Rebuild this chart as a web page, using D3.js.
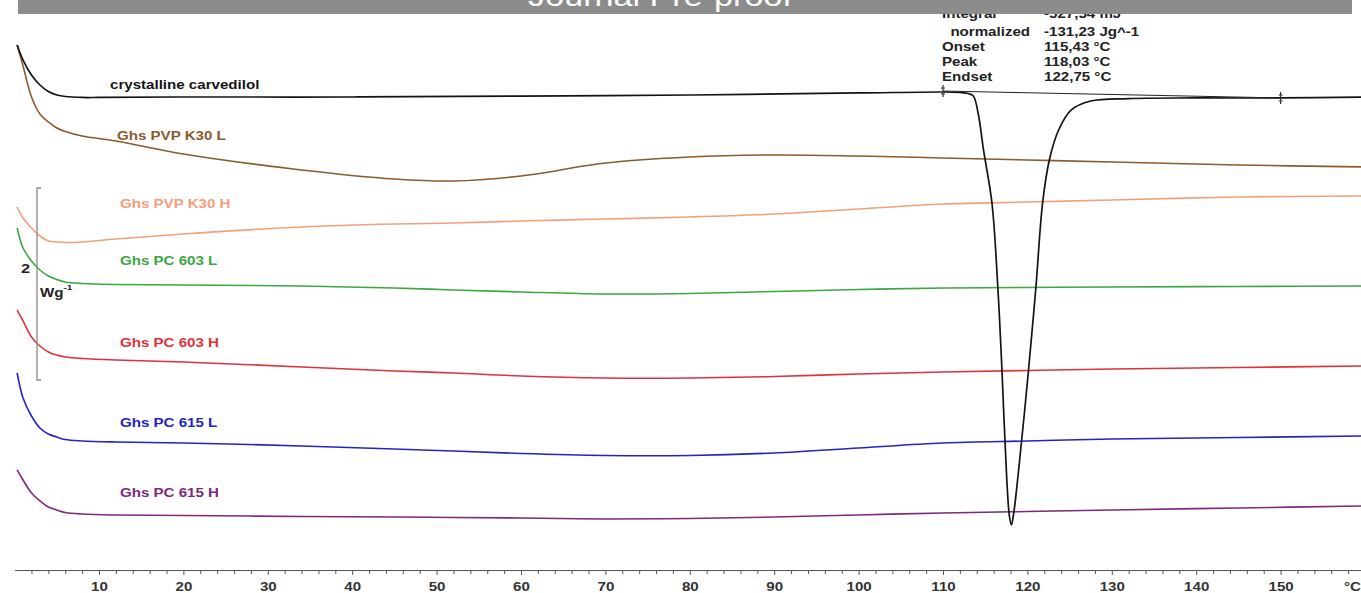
<!DOCTYPE html>
<html>
<head>
<title>DSC thermograms - carvedilol</title>
<script src="https://d3js.org/d3.v7.min.js"></script>
<style>
  body { margin: 0; background: #fff; }
  svg text { font-family: "Liberation Sans", Arial, sans-serif; }
</style>
</head>
<body>
<svg width="1361" height="593"></svg>
<script>
// temperature grid (°C) for the sample curves
var temps = [0.3,1,2,3,4,5,6,8,12,20,34,45,52,60,70,80,90,100,110,120,130,145,160];

// heat flow in W/g, curves stacked with an offset (endo down)
var pvpK30L = [5.615,5.396,5.073,4.896,4.813,4.750,4.714,4.667,4.615,4.479,4.313,4.219,4.198,4.250,4.385,4.448,4.469,4.458,4.438,4.417,4.396,4.365,4.344];
var pvpK30H = [3.927,3.813,3.708,3.625,3.573,3.563,3.557,3.563,3.594,3.646,3.719,3.750,3.760,3.781,3.802,3.823,3.854,3.906,3.958,3.979,4.000,4.031,4.042];
var pc603L  = [3.708,3.500,3.365,3.271,3.208,3.172,3.146,3.130,3.120,3.115,3.104,3.083,3.063,3.042,3.021,3.026,3.047,3.068,3.083,3.089,3.094,3.099,3.104];
var pc603H  = [2.854,2.740,2.573,2.479,2.417,2.385,2.365,2.349,2.333,2.313,2.260,2.219,2.198,2.167,2.146,2.146,2.161,2.188,2.208,2.224,2.240,2.255,2.271];
var pc615L  = [2.198,1.938,1.750,1.625,1.563,1.531,1.505,1.490,1.479,1.469,1.438,1.406,1.385,1.359,1.339,1.339,1.365,1.417,1.469,1.490,1.510,1.526,1.542];
var pc615H  = [1.188,1.083,0.948,0.865,0.802,0.771,0.745,0.729,0.719,0.714,0.703,0.698,0.693,0.688,0.677,0.682,0.698,0.719,0.740,0.755,0.771,0.792,0.813];

// crystalline carvedilol, denser around the melting peak
var carvTemps = [0.3,1,2,3,4,5,6,8,10,20,40,60,80,100,110,112,113,113.6,114.2,114.8,115.8,116.5,117,117.35,117.85,118.1,118.35,119.3,120.1,121,121.8,122.6,123.7,125.2,127.5,132,140,150,160];
var carvFlow  = [5.615,5.458,5.302,5.198,5.130,5.094,5.078,5.068,5.068,5.073,5.073,5.083,5.094,5.115,5.125,5.120,5.109,5.083,4.885,4.521,3.969,3.083,2.198,1.479,0.719,0.615,0.719,1.479,2.198,3.083,3.969,4.417,4.729,4.938,5.031,5.057,5.063,5.063,5.073];

var sampleNames  = ["Ghs PVP K30 L","Ghs PVP K30 H","Ghs PC 603 L","Ghs PC 603 H","Ghs PC 615 L","Ghs PC 615 H"];
var sampleValues = [pvpK30L, pvpK30H, pc603L, pc603H, pc615L, pc615H];
var sampleColors = ["#8b5a2e","#f2a07b","#3aa840","#e0323a","#2424c4","#7d2a7d"];
var labelY       = [140, 208, 265, 347, 427, 497];

// integration limits and baseline of the melting peak
var peakLimits   = [110, 150];
var peakBaseline = [5.135, 5.063];
var peakLabels   = ["Integral","  normalized","Onset","Peak","Endset"];
var peakValues   = ["-527,54 mJ","-131,23 Jg^-1","115,43 °C","118,03 °C","122,75 °C"];

var xLabelTicks = [10,20,30,40,50,60,70,80,90,100,110,120,130,140,150,160];

var svg = d3.select("svg");
var stretch = 1.26;

var x = d3.scaleLinear().domain([0, 160]).range([14.6, 1365]);
var y = d3.scaleLinear().domain([0, 6]).range([584, 8]);

function addText(g, px, py, str, color, size) {
  return g.append("text")
    .attr("transform", "translate(" + px + "," + py + ") scale(" + stretch + ",1)")
    .attr("fill", color)
    .attr("font-size", size || 12)
    .attr("font-weight", "bold")
    .text(str);
}

var line = d3.line()
  .x(function(d) { return x(d[0]); })
  .y(function(d) { return y(d[1]); })
  .curve(d3.curveCatmullRom.alpha(0.5));

// sample curves
sampleValues.forEach(function(vals, i) {
  svg.append("path")
    .datum(temps.map(function(t, j) { return [t, vals[j]]; }))
    .attr("fill", "none")
    .attr("stroke", sampleColors[i])
    .attr("stroke-width", 1.6)
    .attr("d", line);
  addText(svg, i == 0 ? 117 : 120, labelY[i], sampleNames[i], sampleColors[i]);
});

// carvedilol on top
svg.append("path")
  .datum(carvTemps.map(function(t, j) { return [t, carvFlow[j]]; }))
  .attr("fill", "none")
  .attr("stroke", "#141414")
  .attr("stroke-width", 1.7)
  .attr("d", line);
addText(svg, 110, 89, "crystalline carvedilol", "#141414");

// integration baseline + limit marks
svg.append("line")
  .attr("x1", x(peakLimits[0])).attr("y1", y(peakBaseline[0]))
  .attr("x2", x(peakLimits[1])).attr("y2", y(peakBaseline[1]))
  .attr("stroke", "#222").attr("stroke-width", 1);
peakLimits.forEach(function(t, i) {
  var cx = x(t), cy = y(peakBaseline[i]);
  svg.append("line").attr("x1", cx).attr("x2", cx).attr("y1", cy - 6).attr("y2", cy + 6)
    .attr("stroke", "#333").attr("stroke-width", 1.2);
  [-3, 3].forEach(function(o) {
    svg.append("line").attr("x1", cx - 2).attr("x2", cx + 2).attr("y1", cy + o).attr("y2", cy + o)
      .attr("stroke", "#333").attr("stroke-width", 1);
  });
});

// peak evaluation table
peakLabels.forEach(function(lbl, i) {
  var by = i == 0 ? 18 : 36 + (i - 1) * 15;
  addText(svg, 942, by, lbl, "#222").attr("xml:space", "preserve");
  addText(svg, 1044, by, peakValues[i], "#222");
});

// scale bar 2 W/g
var barTop = y(4.125), barBot = y(2.125);
svg.append("path")
  .attr("d", "M41," + barTop + "H37V" + barBot + "H41")
  .attr("fill", "none").attr("stroke", "#8a8a8a").attr("stroke-width", 1.3);
addText(svg, 21, 273, "2", "#222", 13);
var wg = addText(svg, 40, 297, "Wg", "#222", 12);
wg.append("tspan").attr("font-size", 8).attr("dy", -7).text("-1");

// temperature axis
var axis = svg.append("g")
  .attr("transform", "translate(0,570)")
  .call(d3.axisBottom(x)
    .tickValues(d3.range(2, 161, 2))
    .tickSize(4)
    .tickSizeOuter(0)
    .tickFormat(function(d) {
      if (xLabelTicks.indexOf(d) < 0) return "";
      return d == 160 ? "°C" : d;
    }));
axis.select(".domain").attr("stroke", "#555");
axis.selectAll(".tick line").attr("stroke", "#555")
  .attr("y2", function(d) { return d % 10 == 0 ? 5 : 4; });
axis.selectAll(".tick text")
  .attr("y", 21).attr("dy", null)
  .attr("font-size", 12).attr("font-weight", "bold")
  .attr("fill", "#333")
  .attr("font-family", "'Liberation Sans', Arial, sans-serif")
  .attr("transform", function(d) { return (d == 160 ? "translate(-13,0) " : "") + "scale(" + stretch + ",1)"; });

// "Journal Pre-proof" banner
svg.append("clipPath").attr("id", "bannerClip")
  .append("rect").attr("x", 18).attr("y", 0).attr("width", 1334).attr("height", 14);
svg.append("rect")
  .attr("x", 18).attr("y", 0).attr("width", 1334).attr("height", 14)
  .attr("fill", "#8c8c8c");
svg.append("g").attr("clip-path", "url(#bannerClip)")
  .append("text")
  .attr("transform", "translate(660,6) scale(1.22,1)")
  .attr("text-anchor", "middle")
  .attr("fill", "#fff")
  .attr("font-size", 28)
  .text("Journal Pre-proof");
</script>
</body>
</html>
